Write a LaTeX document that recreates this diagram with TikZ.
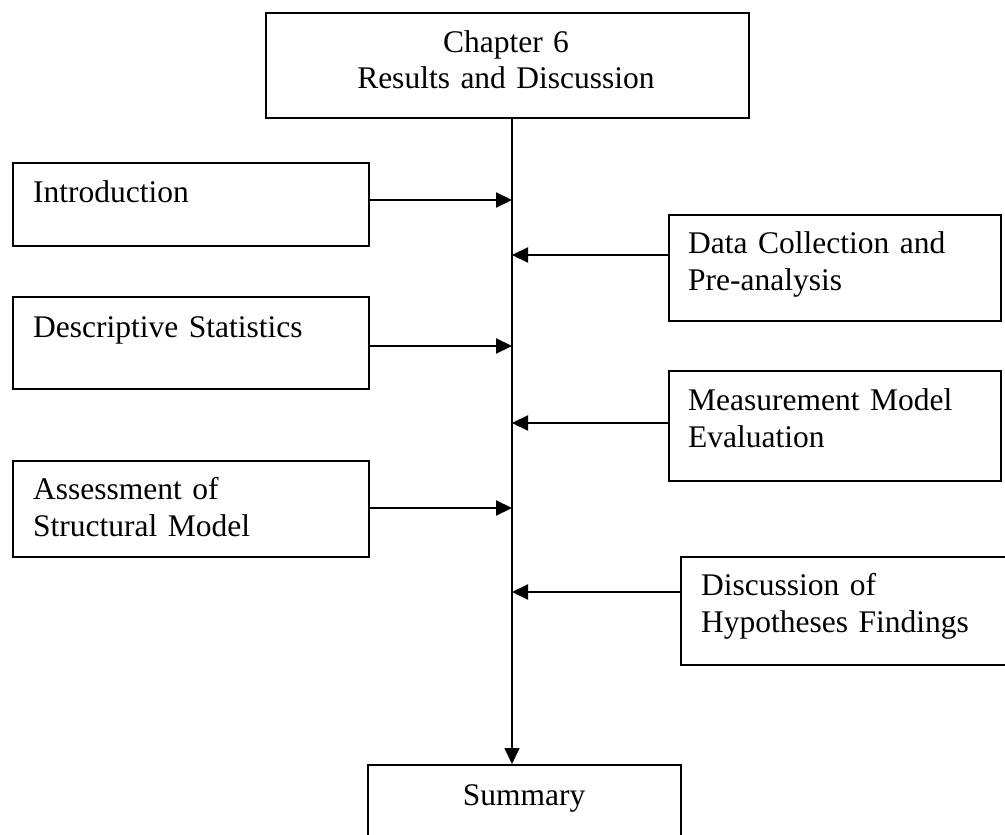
\documentclass[tikz,border=0pt]{standalone}
\usepackage{fontspec}
\setmainfont{Liberation Serif}
\usetikzlibrary{arrows.meta,calc}
\begin{document}
\begin{tikzpicture}[x=1pt,y=-1pt,
  box/.style={draw=black, line width=1.8pt, rectangle, inner sep=0pt, anchor=north west},
  txt/.style={anchor=base west, inner sep=0pt, text width=330pt, align=left,
              font=\fontsize{31.5}{37.5}\selectfont},
  ctxt/.style={anchor=base, inner sep=0pt, text width=470pt, align=center,
               font=\fontsize{31.5}{36}\selectfont},
  feed/.style={-{Triangle[length=16pt,width=15pt]}, line width=2.2pt},
  spine/.style={-{Triangle[length=16pt,width=15pt]}, line width=1.8pt}]
\useasboundingbox (0,0) rectangle (1005,835);
\clip (0,0) rectangle (1005,835);

% chapter heading
\node[box, minimum width=483pt, minimum height=105pt] (top) at (265,12) {};
\node[ctxt] (toptxt) at (506,52) {Chapter 6\\Results and Discussion};

% summary box, running off the lower edge
\node[box, minimum width=313pt, minimum height=90pt] (summary) at (367,764) {};
\node[ctxt] (sumtxt) at (524,805) {Summary};

% left column
\node[box, minimum width=356pt, minimum height=83pt] (intro) at (12,162) {};
\node[txt] (introtxt) at (33,202) {Introduction};

\node[box, minimum width=356pt, minimum height=92pt] (desc) at (12,296) {};
\node[txt] (desctxt) at (33,337) {Descriptive Statistics};

\node[box, minimum width=356pt, minimum height=96pt] (assess) at (12,460) {};
\node[txt] (assesstxt) at (33,499) {Assessment of\\Structural Model};

% right column
\node[box, minimum width=332pt, minimum height=106pt] (data) at (668,214) {};
\node[txt] (datatxt) at (688,253) {Data Collection and\\Pre-analysis};

\node[box, minimum width=332pt, minimum height=110pt] (meas) at (668,370) {};
\node[txt] (meastxt) at (688,410) {Measurement Model\\Evaluation};

\node[box, minimum width=340pt, minimum height=108pt] (disc) at (680,556) {};
\node[txt] (disctxt) at (701,595) {Discussion of\\Hypotheses Findings};

% points on the central line
\coordinate (sp) at (512,0);
\coordinate (s1) at (512,200);
\coordinate (s2) at (512,255);
\coordinate (s3) at (512,346);
\coordinate (s4) at (512,423);
\coordinate (s5) at (512,508);
\coordinate (s6) at (512,592);

% central line
\draw[spine] (top.south -| sp) -- (summary.north -| sp);

% feeders
\draw[feed] (intro.east |- s1) -- (s1);
\draw[feed] (desc.east |- s3) -- (s3);
\draw[feed] (assess.east |- s5) -- (s5);
\draw[feed] (data.west |- s2) -- (s2);
\draw[feed] (meas.west |- s4) -- (s4);
\draw[feed] (disc.west |- s6) -- (s6);
\end{tikzpicture}
\end{document}
